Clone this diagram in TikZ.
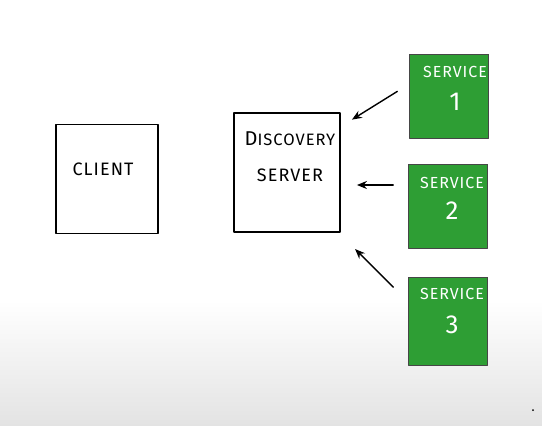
\documentclass[tikz,border=0pt]{standalone}
\usepackage{fontspec}
\newfontfamily\handfont[LetterSpace=6]{Fira Sans}
\usetikzlibrary{arrows.meta}
\usepackage{xcolor}
\definecolor{svcgreen}{RGB}{46,158,52}
\definecolor{edgegray}{RGB}{70,70,70}

\tikzset{
  boxnode/.style={draw=black,line width=1.8pt,minimum width=102pt,minimum height=109pt,inner sep=0pt},
  svcnode/.style={fill=svcgreen,draw=edgegray,line width=0.6pt,minimum width=79pt,minimum height=84pt,inner sep=0pt},
  boxtext/.style={inner sep=0pt,font=\handfont\fontsize{18}{20}\selectfont},
  svctext/.style={inner sep=0pt,text=white,font=\handfont\fontsize{16}{18}\selectfont},
  svcnum/.style={inner sep=0pt,text=white,font=\handfont\fontsize{26}{28}\selectfont},
  regarrow/.style={-{Stealth[length=10pt,width=8pt]},line width=1.4pt}
}

\begin{document}
\begin{tikzpicture}[x=1pt,y=-1pt,line cap=round,line join=round]
  \path[use as bounding box] (0,0) rectangle (542,426);

  % background, white fading to light gray at the bottom
  \fill[white] (0,0) rectangle (542,300);
  \shade[top color=white,bottom color=black!11] (0,300) rectangle (542,426);
  \fill[black] (533,410) circle (1pt);

  % boxes
  \node[boxnode] (client) at (107,179) {};
  \node[boxnode,minimum width=106pt,minimum height=119pt] (disc) at (287,172.5) {};
  \node[svcnode] (s1) at (449,96) {};
  \node[svcnode] (s2) at (448,206) {};
  \node[svcnode,minimum height=88pt] (s3) at (448,321) {};

  % labels
  \node[boxtext] (clientlbl) at (103,169) {CLIENT};
  \node[boxtext,font=\handfont\fontsize{16.5}{18}\selectfont] (disclbl) at (290,139)
    {{\fontsize{20}{22}\selectfont D}ISCOVERY};
  \node[boxtext] (srvlbl) at (290,175) {SERVER};
  \node[svctext] (s1lbl) at (455,72) {SERVICE};
  \node[svcnum] (s1num) at (455,102) {1};
  \node[svctext] (s2lbl) at (452,183) {SERVICE};
  \node[svcnum] (s2num) at (452,211) {2};
  \node[svctext] (s3lbl) at (452,294) {SERVICE};
  \node[svcnum] (s3num) at (452,325) {3};

  % registrations
  \draw[regarrow,shorten <=14pt,shorten >=13pt]
    ([yshift=12pt]s1.west) -- ([yshift=46pt]disc.east);
  \draw[regarrow,shorten <=15pt,shorten >=16pt]
    ([yshift=21pt]s2.west) -- ([yshift=-12.5pt]disc.east);
  \draw[regarrow,shorten <=21pt,shorten >=20pt]
    ([yshift=19pt]s3.west) -- ([yshift=-2pt]disc.south east);
\end{tikzpicture}
\end{document}
